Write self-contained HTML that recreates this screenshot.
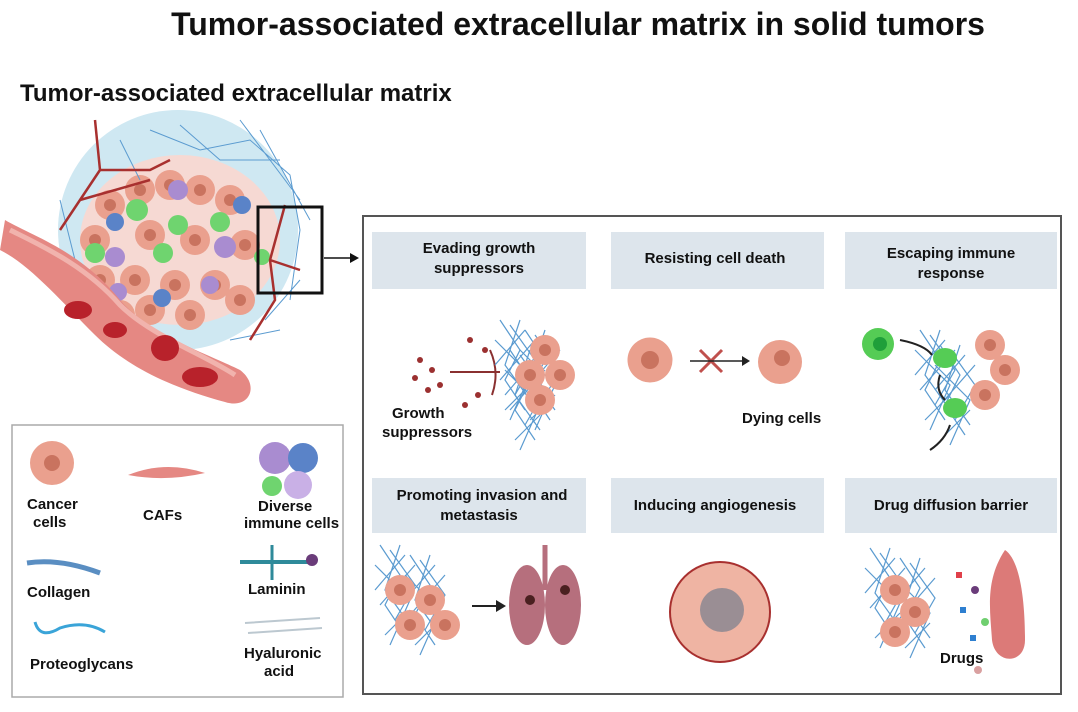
<!DOCTYPE html>
<html><head><meta charset="utf-8"><style>
body{margin:0;background:#fff;width:1078px;height:707px;overflow:hidden;font-family:"Liberation Sans",Arial,sans-serif}
svg text{font-family:"Liberation Sans",Arial,sans-serif;font-weight:bold;fill:#111}
</style></head><body>
<svg width="1078" height="707" viewBox="0 0 1078 707" xmlns="http://www.w3.org/2000/svg">
<defs>
<g id="cc"><circle r="15" fill="#eaa08e"/><circle r="6" fill="#c9735f"/></g>
<g id="mesh" stroke="#5b9bd0" stroke-width="1.2" fill="none">
<path d="M0 0 L20 30 L5 60 L25 90 M10 5 L35 40 L15 75 M-5 20 L30 55 L10 100 M20 0 L5 45 L30 80 M0 60 L35 20 M5 90 L30 65 M-5 45 L25 10"/>
</g>
</defs>
<text x="578" y="35" font-size="32" text-anchor="middle">Tumor-associated extracellular matrix  in solid tumors</text>
<text x="20" y="101" font-size="24">Tumor-associated extracellular matrix</text>

<!-- tumor illustration -->
<circle cx="178" cy="230" r="120" fill="#cfe8f2"/>
<ellipse cx="180" cy="240" rx="100" ry="85" fill="#f6d9d3"/>
<g>
<use href="#cc" x="110" y="205"/><use href="#cc" x="140" y="190"/><use href="#cc" x="170" y="185"/><use href="#cc" x="200" y="190"/><use href="#cc" x="230" y="200"/>
<use href="#cc" x="95" y="240"/><use href="#cc" x="150" y="235"/><use href="#cc" x="195" y="240"/><use href="#cc" x="245" y="245"/>
<use href="#cc" x="100" y="280"/><use href="#cc" x="135" y="280"/><use href="#cc" x="175" y="285"/><use href="#cc" x="215" y="285"/><use href="#cc" x="240" y="300"/>
<use href="#cc" x="150" y="310"/><use href="#cc" x="190" y="315"/><use href="#cc" x="120" y="315"/>
</g>
<g fill="#6fd46f"><circle cx="137" cy="210" r="11"/><circle cx="178" cy="225" r="10"/><circle cx="220" cy="222" r="10"/><circle cx="95" cy="253" r="10"/><circle cx="163" cy="253" r="10"/><circle cx="262" cy="257" r="8"/></g>
<g fill="#a98cd0"><circle cx="178" cy="190" r="10"/><circle cx="225" cy="247" r="11"/><circle cx="115" cy="257" r="10"/><circle cx="210" cy="285" r="9"/><circle cx="118" cy="292" r="9"/></g>
<g fill="#5a83c8"><circle cx="115" cy="222" r="9"/><circle cx="242" cy="205" r="9"/><circle cx="162" cy="298" r="9"/></g>
<g stroke="#5b9bd0" stroke-width="1" fill="none">
<path d="M150 130 L200 150 L250 140 L290 175 L300 230 L290 300 M180 125 L220 160 L280 160 M60 250 L70 300 L95 330 M265 320 L300 280 M230 340 L280 330 M240 120 L300 200 M120 140 L140 180 M260 130 L310 220 M60 200 L80 280"/>
</g>
<g stroke="#a8302f" stroke-width="2.5" fill="none">
<path d="M95 120 L100 170 L60 230 M100 170 L150 170 L170 160 M80 200 L150 180 M285 205 L270 260 L275 300 L250 340 M270 260 L300 270"/>
</g>
<path d="M5 220 C30 235 80 250 120 300 C150 335 210 355 240 370 C260 385 250 410 225 402 C180 390 130 370 95 335 C60 300 30 265 0 250 Z" fill="#e58883"/>
<path d="M10 230 C40 245 85 265 120 305 C150 335 205 355 235 375" stroke="#f1b3ad" stroke-width="5" fill="none"/>
<g fill="#b8222b"><ellipse cx="78" cy="310" rx="14" ry="9"/><ellipse cx="115" cy="330" rx="12" ry="8"/><ellipse cx="165" cy="348" rx="14" ry="13"/><ellipse cx="200" cy="377" rx="18" ry="10"/></g>
<rect x="258" y="207" width="64" height="86" fill="none" stroke="#111" stroke-width="3"/>
<line x1="324" y1="258" x2="350" y2="258" stroke="#111" stroke-width="1.5"/>
<path d="M350 253 L359 258 L350 263 Z" fill="#111"/>

<!-- legend -->
<rect x="12" y="425" width="331" height="272" fill="#fff" stroke="#aaa" stroke-width="1.5"/>
<g transform="translate(52,463)"><circle r="22" fill="#eaa08e"/><circle r="8" fill="#c9735f"/></g>
<text x="27" y="509" font-size="15">Cancer</text><text x="33" y="527" font-size="15">cells</text>
<path d="M128 475 Q165 460 205 473 Q165 482 128 475Z" fill="#e58883"/>
<text x="143" y="520" font-size="15">CAFs</text>
<g><circle cx="275" cy="458" r="16" fill="#a98cd0"/><circle cx="303" cy="458" r="15" fill="#5a83c8"/><circle cx="298" cy="485" r="14" fill="#c9b0e6"/><circle cx="272" cy="486" r="10" fill="#6fd46f"/></g>
<text x="258" y="511" font-size="15">Diverse</text><text x="244" y="528" font-size="15">immune cells</text>
<path d="M27 563 Q60 558 100 573" stroke="#5a8ec2" stroke-width="5" fill="none"/>
<text x="27" y="597" font-size="15">Collagen</text>
<line x1="240" y1="562" x2="312" y2="562" stroke="#2e8a9a" stroke-width="4"/>
<line x1="272" y1="545" x2="272" y2="580" stroke="#2e8a9a" stroke-width="3"/>
<circle cx="312" cy="560" r="6" fill="#6a3c7a"/>
<text x="248" y="594" font-size="15">Laminin</text>
<path d="M35 622 Q40 640 60 628 Q85 620 105 632" stroke="#3aa4d8" stroke-width="3" fill="none"/>
<text x="30" y="669" font-size="15">Proteoglycans</text>
<path d="M245 623 L320 618 M248 633 L322 628" stroke="#bcc8d0" stroke-width="2" fill="none"/>
<text x="244" y="658" font-size="15">Hyaluronic</text><text x="264" y="676" font-size="15">acid</text>

<!-- right panel -->
<rect x="363" y="216" width="698" height="478" fill="#fff" stroke="#555" stroke-width="2"/>
<g fill="#dde5ec">
<rect x="372" y="232" width="214" height="57"/><rect x="611" y="232" width="213" height="57"/><rect x="845" y="232" width="212" height="57"/>
<rect x="372" y="478" width="214" height="55"/><rect x="611" y="478" width="213" height="55"/><rect x="845" y="478" width="212" height="55"/>
</g>
<g font-size="15" text-anchor="middle">
<text x="479" y="253">Evading growth</text><text x="479" y="273">suppressors</text>
<text x="715" y="263">Resisting cell death</text>
<text x="951" y="258">Escaping immune</text><text x="951" y="278">response</text>
<text x="482" y="500">Promoting invasion and</text><text x="479" y="520">metastasis</text>
<text x="715" y="510">Inducing angiogenesis</text>
<text x="951" y="510">Drug diffusion barrier</text>
</g>

<!-- cell 1 -->
<g fill="#9b3030"><circle cx="420" cy="360" r="3"/><circle cx="432" cy="370" r="3"/><circle cx="415" cy="378" r="3"/><circle cx="440" cy="385" r="3"/><circle cx="428" cy="390" r="3"/><circle cx="470" cy="340" r="3"/><circle cx="478" cy="395" r="3"/><circle cx="465" cy="405" r="3"/><circle cx="485" cy="350" r="3"/></g>
<path d="M450 372 L500 372 M490 350 Q500 372 492 395" stroke="#8a3030" stroke-width="2" fill="none"/>
<g transform="translate(500,320)"><use href="#mesh"/><use href="#mesh" x="25" y="10"/><use href="#mesh" x="10" y="30"/></g>
<use href="#cc" x="545" y="350"/><use href="#cc" x="560" y="375"/><use href="#cc" x="540" y="400"/><use href="#cc" x="530" y="375"/>
<text x="392" y="418" font-size="15">Growth</text><text x="382" y="437" font-size="15">suppressors</text>

<!-- cell 2 -->
<use href="#cc" x="650" y="360" transform="translate(-325,-180) scale(1.5)"/>
<path d="M700 350 L722 372 M722 350 L700 372" stroke="#c0504d" stroke-width="3"/>
<line x1="690" y1="361" x2="742" y2="361" stroke="#222" stroke-width="1.5"/><path d="M742 356 L750 361 L742 366Z" fill="#222"/>
<circle cx="780" cy="362" r="22" fill="#eaa08e"/><circle cx="782" cy="358" r="8" fill="#c9735f"/>
<text x="742" y="423" font-size="15">Dying cells</text>

<!-- cell 3 -->
<circle cx="878" cy="344" r="16" fill="#55cc55"/><circle cx="880" cy="344" r="7" fill="#1f9f3a"/>
<g transform="translate(920,330)"><use href="#mesh"/><use href="#mesh" x="20" y="15"/></g>
<use href="#cc" x="990" y="345"/><use href="#cc" x="1005" y="370"/><use href="#cc" x="985" y="395"/>
<ellipse cx="945" cy="358" rx="12" ry="10" fill="#55cc55"/><ellipse cx="955" cy="408" rx="12" ry="10" fill="#55cc55"/>
<path d="M900 340 Q925 345 932 355 M940 375 Q935 390 945 400 M950 425 Q945 440 930 450" stroke="#222" stroke-width="2" fill="none"/>

<!-- cell 4 -->
<g transform="translate(380,545)"><use href="#mesh"/><use href="#mesh" x="30" y="10"/></g>
<use href="#cc" x="400" y="590"/><use href="#cc" x="430" y="600"/><use href="#cc" x="410" y="625"/><use href="#cc" x="445" y="625"/>
<line x1="472" y1="606" x2="496" y2="606" stroke="#222" stroke-width="2"/><path d="M496 600 L506 606 L496 612Z" fill="#222"/>
<ellipse cx="527" cy="605" rx="18" ry="40" fill="#b66f7d"/><ellipse cx="563" cy="605" rx="18" ry="40" fill="#b66f7d"/>
<path d="M545 545 L545 590" stroke="#b66f7d" stroke-width="5"/>
<circle cx="530" cy="600" r="5" fill="#4a2020"/><circle cx="565" cy="590" r="5" fill="#4a2020"/>

<!-- cell 5 -->
<circle cx="720" cy="612" r="50" fill="#efb4a3" stroke="#a8302f" stroke-width="2"/>
<circle cx="722" cy="610" r="22" fill="#9a8e94"/>

<!-- cell 6 -->
<g transform="translate(870,548)"><use href="#mesh"/><use href="#mesh" x="30" y="10"/></g>
<use href="#cc" x="895" y="590"/><use href="#cc" x="915" y="612"/><use href="#cc" x="895" y="632"/>
<path d="M1005 550 C1020 560 1025 600 1025 640 C1025 665 995 665 992 640 C990 610 985 580 1005 550Z" fill="#dc7a78"/>
<g><rect x="956" y="572" width="6" height="6" fill="#e0404a"/><circle cx="975" cy="590" r="4" fill="#6a3c7a"/><rect x="960" y="607" width="6" height="6" fill="#2e7fd0"/><circle cx="985" cy="622" r="4" fill="#6fcf6f"/><rect x="970" y="635" width="6" height="6" fill="#2e7fd0"/><circle cx="978" cy="670" r="4" fill="#d9a0a0"/></g>
<text x="940" y="663" font-size="15">Drugs</text>
</svg>
</body></html>
